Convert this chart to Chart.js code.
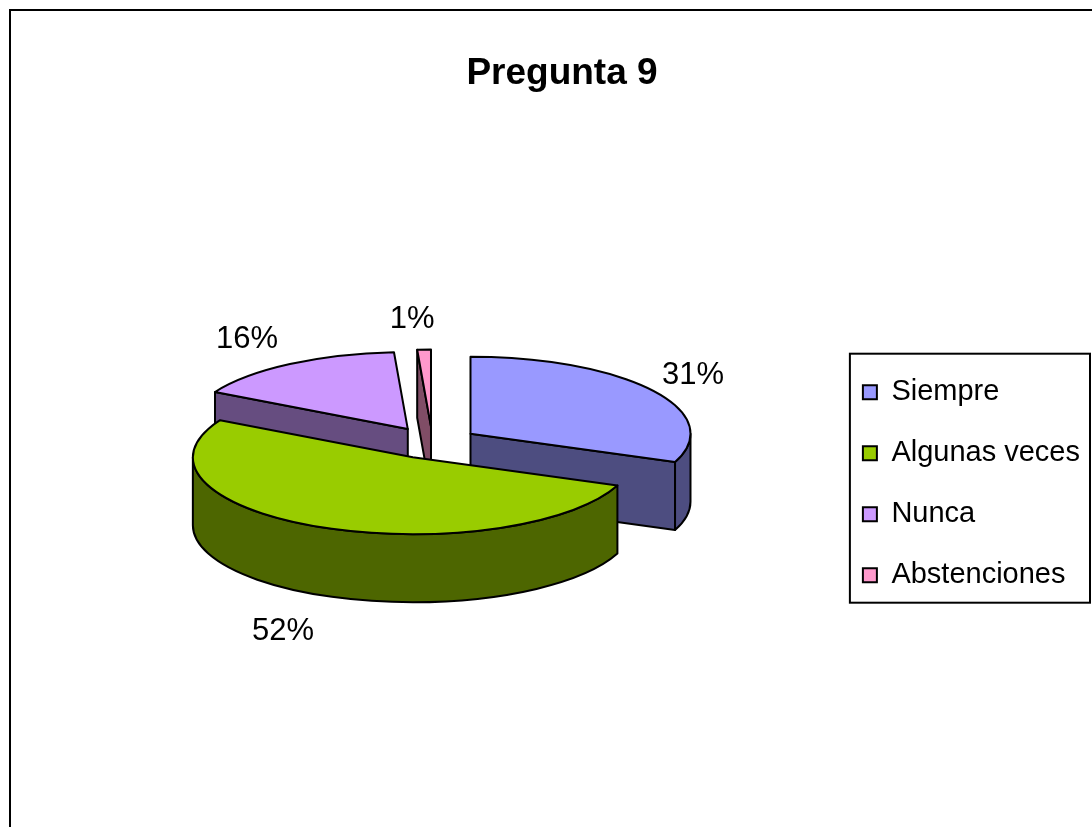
<!DOCTYPE html>
<html>
<head>
<meta charset="utf-8">
<script src="https://cdn.jsdelivr.net/npm/chart.js@4.4.1/dist/chart.umd.min.js"></script>
<style>
  html, body { margin: 0; background: #fff; }
  #wrap { width: 1092px; height: 827px; }
</style>
</head>
<body>
<div id="wrap"><canvas id="chart" width="1092" height="827"></canvas></div>
<script>
const labels = ['Siempre', 'Algunas veces', 'Nunca', 'Abstenciones'];
const values = [31, 52, 16, 1];
const topColors = ['#9999FF', '#99CC00', '#CC99FF', '#FF99CC'];
const sideColors = ['#4D4D80', '#4D6600', '#664D80', '#804D66'];

const FONT = "'Liberation Sans', Arial, sans-serif";
const TILT = 0.35;   // vertical squash of the pie
const DEPTH = 68;    // thickness of the 3D slab

// draws the pie as an exploded 3D slab from the arcs Chart.js laid out
const pie3d = {
  id: 'pie3d',
  beforeDraw(chart) {
    const ctx = chart.ctx;
    ctx.save();
    ctx.fillStyle = '#fff';
    ctx.fillRect(0, 0, chart.width, chart.height);
    ctx.strokeStyle = '#000';
    ctx.lineWidth = 2;
    ctx.beginPath();
    ctx.moveTo(10, chart.height + 5);
    ctx.lineTo(10, 10);
    ctx.lineTo(chart.width + 5, 10);
    ctx.stroke();
    ctx.restore();
  },
  beforeDatasetsDraw(chart) {
    const ctx = chart.ctx;
    const meta = chart.getDatasetMeta(0);
    const total = values.reduce((a, b) => a + b, 0);
    const slices = meta.data.map((arc, i) => {
      const p = arc.getProps(['x', 'y', 'startAngle', 'endAngle', 'outerRadius'], true);
      const mid = (p.startAngle + p.endAngle) / 2;
      const off = arc.options.offset || 0;
      return {
        i, s: p.startAngle, e: p.endAngle, mid, off, x0: p.x, y0: p.y,
        rx: p.outerRadius, ry: p.outerRadius * TILT,
        cx: p.x + Math.cos(mid) * off,
        cy: p.y + Math.sin(mid) * off * TILT
      };
    });

    ctx.save();
    ctx.lineWidth = 2;
    ctx.strokeStyle = '#000';
    ctx.lineJoin = 'round';

    const radialWall = (sl, a) => {
      const x1 = sl.cx + Math.cos(a) * sl.rx, y1 = sl.cy + Math.sin(a) * sl.ry;
      ctx.beginPath();
      ctx.moveTo(sl.cx, sl.cy);
      ctx.lineTo(x1, y1);
      ctx.lineTo(x1, y1 + DEPTH);
      ctx.lineTo(sl.cx, sl.cy + DEPTH);
      ctx.closePath();
      ctx.fillStyle = sideColors[sl.i];
      ctx.fill();
      ctx.stroke();
    };

    [...slices].sort((a, b) => Math.sin(a.mid) - Math.sin(b.mid)).forEach(sl => {
      // side walls facing the viewer
      if (Math.cos(sl.s) < -1e-6) radialWall(sl, sl.s);
      if (Math.cos(sl.e) > 1e-6) radialWall(sl, sl.e);
      for (let k = -1; k <= 1; k++) {
        const lo = Math.max(sl.s, 2 * Math.PI * k);
        const hi = Math.min(sl.e, 2 * Math.PI * k + Math.PI);
        if (hi <= lo) continue;
        ctx.beginPath();
        ctx.ellipse(sl.cx, sl.cy, sl.rx, sl.ry, 0, lo, hi);
        ctx.ellipse(sl.cx, sl.cy + DEPTH, sl.rx, sl.ry, 0, hi, lo, true);
        ctx.closePath();
        ctx.fillStyle = sideColors[sl.i];
        ctx.fill();
        ctx.stroke();
      }
      // top face
      ctx.beginPath();
      ctx.moveTo(sl.cx, sl.cy);
      ctx.ellipse(sl.cx, sl.cy, sl.rx, sl.ry, 0, sl.s, sl.e);
      ctx.closePath();
      ctx.fillStyle = topColors[sl.i];
      ctx.fill();
      ctx.stroke();
    });

    // percentage labels, placed around the pie centre
    ctx.fillStyle = '#000';
    ctx.font = `31px ${FONT}`;
    ctx.textAlign = 'center';
    ctx.textBaseline = 'middle';
    slices.forEach(sl => {
      const pct = Math.round(values[sl.i] / total * 100) + '%';
      const x = sl.x0 - 10 + Math.cos(sl.mid) * (sl.rx + sl.off) * 1.23;
      const y = sl.y0 + 5 + Math.sin(sl.mid) * (sl.ry + sl.off * TILT) * 1.38 + (Math.sin(sl.mid) > 0 ? DEPTH : 0);
      ctx.fillText(pct, x, y);
    });
    ctx.restore();
    return false;
  },
  afterDraw(chart) {
    const hb = chart.legend && chart.legend.legendHitBoxes;
    if (!hb || !hb.length) return;
    const ctx = chart.ctx;
    const first = hb[0], last = hb[hb.length - 1];
    const left = first.left - 13, top = first.top - 24;
    const bottom = last.top + last.height + 13;
    ctx.save();
    ctx.strokeStyle = '#000';
    ctx.lineWidth = 2;
    ctx.strokeRect(left, top, chart.width - 2 - left, bottom - top);
    ctx.restore();
  }
};

new Chart(document.getElementById('chart'), {
  type: 'pie',
  data: {
    labels,
    datasets: [{
      data: values,
      backgroundColor: topColors,
      borderColor: '#000',
      borderWidth: 2,
      offset: 46
    }]
  },
  options: {
    responsive: false,
    animation: false,
    radius: 220,
    layout: { padding: { left: 34, right: 2, top: 0, bottom: 68 } },
    plugins: {
      title: {
        display: true,
        text: 'Pregunta 9',
        color: '#000',
        font: { family: FONT, size: 37, weight: 'bold' },
        padding: { top: 52, bottom: 30 }
      },
      legend: {
        position: 'right',
        title: { display: true, text: '', padding: { top: 194, bottom: 0 } },
        labels: {
          boxWidth: 14,
          boxHeight: 14,
          color: '#000',
          font: { family: FONT, size: 29 },
          padding: 32
        }
      },
      tooltip: { enabled: false }
    }
  },
  plugins: [pie3d]
});
</script>
</body>
</html>
